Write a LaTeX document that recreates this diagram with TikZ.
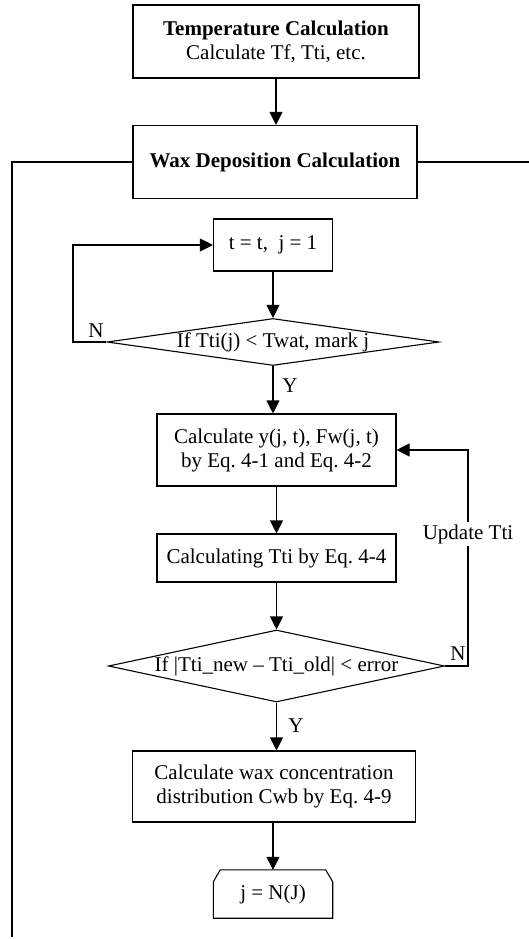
\documentclass[tikz,border=0pt]{standalone}
\usepackage{fontspec}
\setmainfont{Liberation Serif}
\usetikzlibrary{arrows.meta,shapes.geometric,calc}
\begin{document}
\frenchspacing
\begin{tikzpicture}[x=1pt,y=-1pt,
  every node/.style={font=\fontsize{21}{24}\selectfont\frenchspacing},
  box/.style={draw, line width=1.1pt, rectangle, align=center, inner sep=0pt},
  dec/.style={draw, line width=1.1pt, diamond, inner sep=0pt},
  arr/.style={-{Triangle[length=13pt,width=13pt]}, line width=1.1pt},
  ln/.style={line width=1.1pt},
  lbl/.style={inner sep=1pt}]
\useasboundingbox (0,0) rectangle (529,939);

\node[box, minimum width=286pt, minimum height=73pt] (b1) at (276,41.5) {\textbf{Temperature Calculation}\\Calculate Tf, Tti, etc.};
\node[box, minimum width=284pt, minimum height=73pt] (b2) at (275,162) {\textbf{Wax Deposition Calculation}};
\draw[arr] (b1.south) -- (b1.south |- b2.north);

\coordinate (L1) at (12,162);
\coordinate (L2) at (12,937);
\coordinate (R1) at (529,162);
\draw[ln] (b2.west) -- (L1) -- (L2);
\draw[ln] (b2.east) -- (R1);

\node[box, minimum width=119pt, minimum height=52pt] (b3) at (273,245) {t = t,~ j = 1};
\node[dec, minimum width=332pt, minimum height=47pt] (d1) at (273,342) {};
\node[lbl] (t1) at (d1) {If Tti(j) < Twat, mark j};
\draw[arr] (b3.south) -- (d1.north);
\coordinate (c1) at (73,342);
\draw[arr] (d1.west) -- (c1) |- (b3.west);
\node[lbl] (n1) at (96,331) {N};

\node[box, minimum width=239pt, minimum height=72pt] (b4) at (276.5,450) {Calculate y(j, t), Fw(j, t)\\by Eq. 4-1 and Eq. 4-2};
\draw[arr] (d1.south) -- (d1.south |- b4.north);
\node[lbl] (y1) at (290,386) {Y};

\node[box, minimum width=239pt, minimum height=48pt] (b5) at (276.5,558) {Calculating Tti by Eq. 4-4};
\draw[arr] (b4.south) -- (b5.north);

\node[dec, minimum width=336pt, minimum height=72pt] (d2) at (276.5,666) {};
\node[lbl] (t2) at (d2) {If |Tti\_new -- Tti\_old| < error};
\draw[arr] (b5.south) -- (d2.north);
\coordinate (c2) at (468,666);
\draw[arr] (d2.east) -- (c2) |- (b4.east);
\node[fill=white, inner sep=2pt] (upd) at (468,534) {Update Tti};
\node[lbl] (n2) at (458,654) {N};

\node[box, minimum width=283pt, minimum height=71pt] (b6) at (274,786.5) {Calculate wax concentration\\distribution Cwb by Eq. 4-9};
\draw[arr] (d2.south) -- (d2.south |- b6.north);
\node[lbl] (y2) at (296,726) {Y};

\node[minimum width=119pt, minimum height=48pt, inner sep=0pt] (b7) at (273,894) {j = N(J)};
\draw[ln] (b7.south west) -- ($(b7.north west)+(0,12)$) -- ($(b7.north west)+(7,0)$) -- ($(b7.north east)+(-7,0)$) -- ($(b7.north east)+(0,12)$) -- (b7.south east) -- cycle;
\draw[arr] (b6.south -| b7.north) -- (b7.north);
\end{tikzpicture}
\end{document}
